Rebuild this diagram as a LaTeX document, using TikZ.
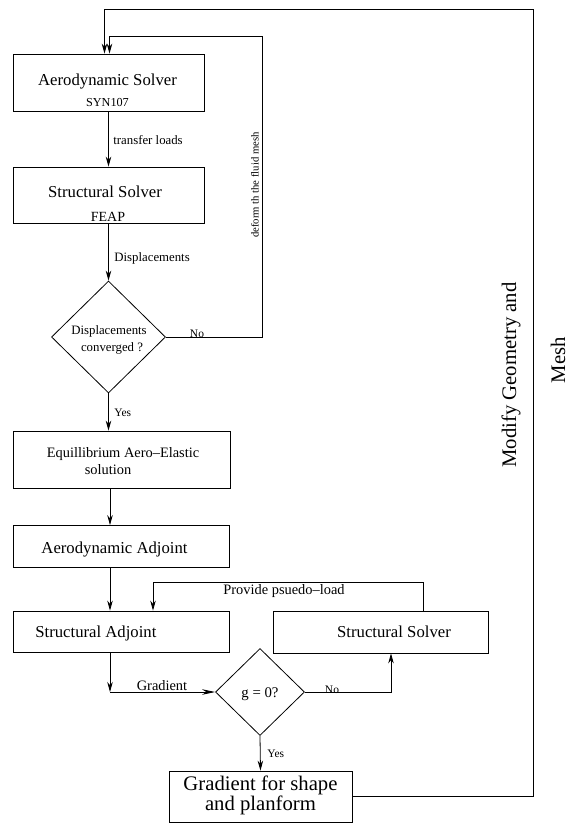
\documentclass[tikz,border=0pt]{standalone}
\usepackage{fontspec}
\setmainfont[Ligatures=TeX]{Liberation Serif}
\usetikzlibrary{shapes.geometric,arrows.meta,calc}
\begin{document}
\begin{tikzpicture}[x=1pt,y=-1pt,
  line width=0.8pt,
  box/.style={draw, rectangle, inner sep=0pt},
  dec/.style={draw, diamond, inner sep=0pt, aspect=1},
  arr/.style={-{Stealth[length=10pt,width=5.5pt]}},
  txt/.style={inner sep=0pt, anchor=base},
  txtw/.style={inner sep=0pt, anchor=base west},
  fA/.style={font=\fontsize{16.7}{20}\selectfont},
  fB/.style={font=\fontsize{14.4}{17}\selectfont},
  fC/.style={font=\fontsize{12.8}{15}\selectfont},
  fD/.style={font=\fontsize{11.5}{13}\selectfont},
  fE/.style={font=\fontsize{20.7}{21}\selectfont}]
\useasboundingbox (0,0) rectangle (568,823);

% boxes
\node[box, minimum width=191pt, minimum height=57pt] (aero) at (108.5,82.5) {};
\node[box, minimum width=191pt, minimum height=56pt] (ssolv) at (108.5,195) {};
\node[dec, minimum width=114pt, minimum height=112pt] (dia1) at (108.5,337) {};
\node[box, minimum width=217pt, minimum height=57pt] (equil) at (121.5,459.5) {};
\node[box, minimum width=216pt, minimum height=42pt] (aadj) at (121,546.5) {};
\node[box, minimum width=216pt, minimum height=41pt] (sadj) at (121,631.5) {};
\node[box, minimum width=215pt, minimum height=42pt] (ssolv2) at (380.5,632) {};
\node[dec, minimum width=89pt, minimum height=87pt] (dia2) at (260,692) {};
\node[box, minimum width=183pt, minimum height=51pt] (grad) at (260.5,796.5) {};

% helper coordinates
\coordinate (colx) at (110,0);
\coordinate (nox) at (391,0);
\coordinate (prx) at (423,0);
\coordinate (plx) at (153,0);
\coordinate (ptop) at (0,582);
\coordinate (rx) at (533,0);
\coordinate (otop) at (0,9.5);
\coordinate (ox) at (104.5,0);
\coordinate (ix) at (262,0);
\coordinate (itop) at (0,36);
\coordinate (inx) at (109.5,0);
\coordinate (gcorner) at (colx |- dia2.west);

% connectors
\draw[arr] (aero.south) -- (ssolv.north);
\draw[arr] (ssolv.south) -- (dia1.north);
\draw[arr] (dia1.south) -- (equil.north -| dia1.south);
\draw[arr] (equil.south -| colx) -- (aadj.north -| colx);
\draw[arr] (aadj.south -| colx) -- (sadj.north -| colx);
\draw[arr] (sadj.south -| colx) -- (gcorner);
\draw[-{Stealth[length=13pt,width=5.5pt]}] (gcorner) -- (dia2.west);
\draw[arr] (dia2.south) -- (grad.north);
\draw[arr] (dia2.east) -- (dia2.east -| nox) -- (ssolv2.south -| nox);
\draw[arr] (ssolv2.north -| prx) -- (prx |- ptop) -- (plx |- ptop) -- (sadj.north -| plx);
\draw[arr] (grad.east) -- (grad.east -| rx) -- (rx |- otop) -- (ox |- otop) -- (aero.north -| ox);
\draw[arr] (dia1.east) -- (dia1.east -| ix) -- (ix |- itop) -- (inx |- itop) -- (aero.north -| inx);

% texts
\node[txt, fA] at (107.5,85) {Aerodynamic Solver};
\node[txt, font=\fontsize{12.2}{14}\selectfont] at (107.5,106) {SYN107};
\node[txtw, fC] at (113,144) {transfer loads};
\node[txt, fA] at (105,197) {Structural Solver};
\node[txt, font=\fontsize{14}{16}\selectfont] at (108,221) {FEAP};
\node[txtw, fC] at (114,261) {Displacements};
\node[txt, fC] at (109,334) {Displacements};
\node[txt, fC] at (112,351) {converged ?};
\node[txt, fD] at (197,337.5) {No};
\node[txt, rotate=90, font=\fontsize{10.7}{12}\selectfont] at (258.5,185) {deform th the fluid mesh};
\node[txtw, fD] at (114,416.5) {Yes};
\node[txt, fB] at (123,457) {Equillibrium Aero–Elastic};
\node[txt, fB] at (108,474) {solution};
\node[txt, fA] at (114.5,553) {Aerodynamic Adjoint};
\node[txtw, fA] at (35,637) {Structural Adjoint};
\node[txt, fB] at (284,594) {Provide psuedo–load};
\node[txt, fA] at (394,637) {Structural Solver};
\node[txt, fB] at (162,690) {Gradient};
\node[txt, font=\fontsize{14.8}{17}\selectfont] at (260,697.5) {g = 0?};
\node[txt, fD] at (332,693) {No};
\node[txtw, fD] at (267,757) {Yes};
\node[txt, fE] at (260.5,790) {Gradient for shape};
\node[txt, fE] at (260.5,810) {and planform};
\node[txt, rotate=90, fE] at (516,375) {Modify Geometry and};
\node[txt, rotate=90, fE] at (565,360) {Mesh};
\end{tikzpicture}
\end{document}
